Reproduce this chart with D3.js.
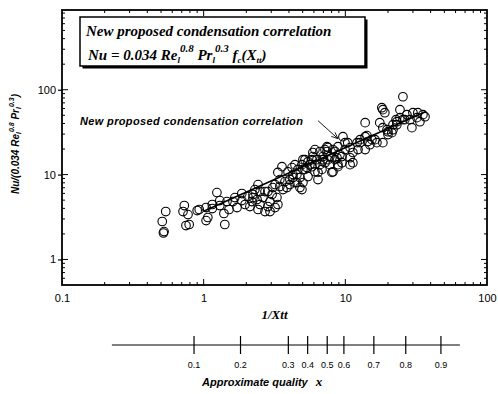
<!DOCTYPE html>
<html>
<head>
<meta charset="utf-8">
<script src="https://cdn.jsdelivr.net/npm/d3@7"></script>
<style>
  body { margin: 0; background: #fff; }
  svg { display: block; }
  text { fill: #000; }
</style>
</head>
<body>
<svg id="chart" width="498" height="394"></svg>
<script>
// ---- data -------------------------------------------------------------
// Lockhart–Martinelli parameter (1/Xtt) of each measurement
const invXtt = [
  0.51, 0.525, 0.52, 0.54, 0.73, 0.715, 0.775, 0.75, 0.79, 0.90, 0.93, 1.04, 1.07, 1.04, 1.15, 1.24,
  1.30, 1.39, 1.41, 1.46, 1.51, 1.61, 1.72, 1.86, 1.86, 1.96, 2.05, 2.19, 2.23, 1.30, 1.66, 1.15,
  2.12, 2.42, 2.50, 2.62, 2.50, 2.42, 2.71, 2.94, 2.84, 2.94, 3.04, 3.08, 3.29, 3.34, 3.19, 3.34,
  3.57, 3.45, 3.75, 3.87, 3.94, 4.06, 4.20, 4.27, 4.41, 4.41, 4.63, 4.78, 5.02, 4.94, 5.19, 5.36,
  5.45, 5.81, 5.90, 6.10, 6.41, 6.30, 6.62, 6.95, 7.18, 7.54, 7.78, 8.04, 7.42, 2.38, 2.23, 2.71,
  3.63, 4.27, 4.55, 4.78, 4.94, 5.02, 5.19, 5.45, 5.81, 5.90, 6.10, 6.41, 6.62, 6.95, 7.42, 7.78,
  8.18, 8.73, 8.87, 9.16, 9.62, 9.94, 10.4, 10.8, 11.3, 10.8, 9.46, 10.8, 12.7, 13.8, 14.4, 13.8,
  13.8, 16.2, 16.7, 17.5, 18.4, 19.7, 18.4, 19.0, 20.0, 23.1, 24.3, 25.5, 27.2, 28.6, 29.5, 30.0,
  32.0, 32.5, 33.6, 35.3, 25.5, 18.1, 22.8, 24.3, 26.3, 36.5, 21.7, 21.3, 18.4, 21.7, 23.1, 14.2,
  15.4, 12.1, 8.87, 8.45, 7.54, 9.46, 8.04, 8.87, 8.18, 11.3, 20.0, 12.7,
  2.30, 2.84, 3.19, 3.45, 4.06, 4.55, 5.02, 5.62, 6.10, 6.84, 7.18, 8.45, 9.94, 12.3, 14.9
];
// Nu / (0.034 Re_l^0.8 Pr_l^0.3) of each measurement
const nuRatio = [
  2.80, 2.13, 2.05, 3.67, 4.32, 3.67, 3.38, 2.51, 2.58, 3.77, 3.88, 4.09, 3.12, 2.87, 4.44, 6.14,
  4.94, 3.48, 2.58, 4.81, 3.88, 4.81, 4.09, 5.98, 4.94, 4.44, 5.51, 4.81, 5.82, 4.32, 5.36, 3.98,
  4.20, 7.63, 6.31, 5.36, 4.44, 3.88, 3.67, 3.67, 4.20, 4.81, 5.82, 7.03, 5.36, 4.44, 4.09, 10.6,
  12.4, 8.73, 8.27, 7.03, 10.8, 8.73, 12.1, 10.0, 8.05, 13.1, 11.5, 9.22, 8.05, 13.1, 15.0, 12.1,
  14.2, 12.4, 16.3, 10.8, 8.73, 15.0, 18.7, 16.3, 19.7, 15.0, 13.1, 10.6, 21.3, 5.08, 5.36, 6.31,
  6.66, 9.22, 8.05, 7.03, 6.66, 15.0, 11.5, 9.47, 15.0, 18.2, 19.7, 10.6, 13.1, 15.0, 18.7, 16.3,
  19.7, 15.8, 13.1, 17.2, 28.0, 23.8, 23.8, 20.8, 18.2, 15.8, 13.8, 13.1, 23.8, 28.0, 24.5, 19.7,
  40.9, 25.8, 23.8, 40.9, 23.8, 33.8, 58.2, 53.6, 32.0, 42.0, 58.2, 44.4, 50.8, 44.4, 35.7, 53.6,
  46.9, 53.6, 42.0, 50.8, 82.7, 61.4, 44.4, 46.9, 44.4, 48.1, 38.7, 31.2, 35.7, 33.8, 38.7, 28.8,
  25.8, 23.8, 21.3, 18.7, 20.8, 16.3, 15.8, 12.4, 10.8, 13.8, 29.6, 25.8,
  6.66, 6.31, 7.63, 7.22, 7.63, 10.0, 11.5, 13.1, 13.1, 11.5, 13.8, 15.0, 19.7, 19.7, 22.5
];

// proposed correlation, drawn as a straight line in log–log space
const fitX = [1, 37];
const fitY = [3.7, 55.5];

// axis ticks
const xTickValues = [0.1, 1, 10, 100];
const yTickValues = [1, 10, 100];

// approximate vapour quality and the 1/Xtt it corresponds to
const qualityLabels = ["0.1", "0.2", "0.3", "0.4", "0.5", "0.6", "0.7", "0.8", "0.9"];
const qualityAt = [0.855, 1.82, 3.96, 5.42, 7.45, 9.77, 15.9, 26.7, 47.3];
const qualityAxisExtent = [0.225, 64.4];

// ---- layout -----------------------------------------------------------
const svg = d3.select("#chart");
const sans = "'Liberation Sans', Arial, sans-serif";
const serif = "'Liberation Serif', 'Times New Roman', serif";

const x = d3.scaleLog().domain([0.1, 100]).range([62, 487]);
const y = d3.scaleLog().domain([0.5, 870]).range([285, 10]);
const [x0, x1] = x.range();
const [y0, y1] = [y.range()[1], y.range()[0]]; // top, bottom

// minor ticks: 2..9 within each decade
function minorTicks(scale) {
  const [a, b] = scale.domain();
  const out = [];
  for (let p = Math.floor(Math.log10(a)); p <= Math.ceil(Math.log10(b)); p++) {
    for (let k = 2; k <= 9; k++) {
      const v = k * Math.pow(10, p);
      if (v > a && v < b) out.push(v);
    }
  }
  return out;
}
const xMinor = minorTicks(x);
const yMinor = minorTicks(y).filter(v => !yTickValues.includes(v));

// ---- axes -------------------------------------------------------------
const fmt = d => String(d);

const gLeft = svg.append("g").attr("transform", `translate(${x0},0)`)
  .call(d3.axisLeft(y).tickValues(yTickValues).tickFormat(fmt).tickSizeInner(4).tickSizeOuter(0).tickPadding(2));
gLeft.select(".domain").remove();

const gBottom = svg.append("g").attr("transform", `translate(0,${y1})`)
  .call(d3.axisBottom(x).tickValues(xTickValues).tickFormat(fmt).tickSize(0).tickPadding(9));
gBottom.select(".domain").remove();

svg.selectAll(".tick text").attr("font-family", sans).attr("font-size", 11);
svg.selectAll(".tick line").attr("stroke", "#000").attr("stroke-width", 1.2);

// inward tick marks on all four sides
const tickG = svg.append("g").attr("stroke", "#000").attr("stroke-width", 1);
const sides = [
  { vals: yTickValues, len: 6, f: v => [x0, y(v), x0 + 1, y(v)] },
  { vals: yMinor, len: 3, f: v => [x0, y(v), x0 + 1, y(v)] },
  { vals: yTickValues, len: 6, f: v => [x1, y(v), x1 - 1, y(v)] },
  { vals: yMinor, len: 3, f: v => [x1, y(v), x1 - 1, y(v)] },
  { vals: xTickValues.filter(v => v > 0.1 && v < 100), len: 6, f: v => [x(v), y1, x(v), y1 - 1] },
  { vals: xMinor, len: 3, f: v => [x(v), y1, x(v), y1 - 1] },
  { vals: xTickValues.filter(v => v > 0.1 && v < 100), len: 6, f: v => [x(v), y0, x(v), y0 + 1] },
  { vals: xMinor, len: 3, f: v => [x(v), y0, x(v), y0 + 1] }
];
sides.forEach(s => {
  s.vals.forEach(v => {
    const [ax, ay, bx, by] = s.f(v);
    const dx = (bx - ax) * s.len, dy = (by - ay) * s.len;
    tickG.append("line").attr("x1", ax).attr("y1", ay).attr("x2", ax + dx).attr("y2", ay + dy);
  });
});

// plot frame
svg.append("rect")
  .attr("x", x0).attr("y", y0).attr("width", x1 - x0).attr("height", y1 - y0)
  .attr("fill", "none").attr("stroke", "#000").attr("stroke-width", 1.8);

// ---- data marks -------------------------------------------------------
const points = invXtt.map((v, i) => ({ x: v, y: nuRatio[i] }));
svg.append("g")
  .selectAll("circle").data(points).join("circle")
  .attr("cx", d => x(d.x)).attr("cy", d => y(d.y)).attr("r", 4.3)
  .attr("fill", "none").attr("stroke", "#000").attr("stroke-width", 1.1);

const fitLine = d3.line().x(d => x(d[0])).y(d => y(d[1]));
svg.append("path")
  .datum(fitX.map((v, i) => [v, fitY[i]]))
  .attr("d", fitLine).attr("fill", "none").attr("stroke", "#000").attr("stroke-width", 1.6);

// ---- annotation -------------------------------------------------------
svg.append("text")
  .attr("x", 80).attr("y", 125)
  .attr("font-family", sans).attr("font-size", 11).attr("font-weight", "bold")
  .attr("font-style", "italic").attr("letter-spacing", 0.35)
  .text("New proposed condensation correlation");

const tail = [x(6.41), y(43.2)];
const tip = [x(8.87), y(26.5)];
const ang = Math.atan2(tip[1] - tail[1], tip[0] - tail[0]);
const ah = 7;
const arrow = svg.append("g").attr("stroke", "#000").attr("stroke-width", 0.9).attr("fill", "none");
arrow.append("line").attr("x1", tail[0]).attr("y1", tail[1]).attr("x2", tip[0]).attr("y2", tip[1]);
[-0.4, 0.4].forEach(a => {
  arrow.append("line")
    .attr("x1", tip[0]).attr("y1", tip[1])
    .attr("x2", tip[0] - ah * Math.cos(ang + a)).attr("y2", tip[1] - ah * Math.sin(ang + a));
});

// ---- title box --------------------------------------------------------
const box = { x: 80, y: 17, w: 285, h: 49 };
svg.append("rect").attr("x", box.x + 2.5).attr("y", box.y + 2.5).attr("width", box.w).attr("height", box.h)
  .attr("fill", "#000");
svg.append("rect").attr("x", box.x).attr("y", box.y).attr("width", box.w).attr("height", box.h)
  .attr("fill", "#fff").attr("stroke", "#000").attr("stroke-width", 1.5);

svg.append("text")
  .attr("x", 86).attr("y", 36)
  .attr("font-family", serif).attr("font-size", 15).attr("font-weight", "bold").attr("font-style", "italic")
  .text("New proposed condensation correlation");

const eq = svg.append("text")
  .attr("x", 88).attr("y", 60)
  .attr("font-family", serif).attr("font-size", 15).attr("font-weight", "bold").attr("font-style", "italic");
function piece(t, txt, kind) {
  const sp = t.append("tspan").text(txt);
  if (kind === "sub") sp.attr("font-size", 9).attr("baseline-shift", "-3");
  if (kind === "sup") sp.attr("font-size", 11).attr("baseline-shift", "8");
  return sp;
}
piece(eq, "Nu = 0.034 Re");
piece(eq, "l", "sub");
piece(eq, "0.8", "sup");
piece(eq, " Pr");
piece(eq, "l", "sub");
piece(eq, "0.3", "sup");
piece(eq, " f");
piece(eq, "c", "sub");
piece(eq, "(X");
piece(eq, "tt", "sub");
piece(eq, ")");

// ---- axis titles ------------------------------------------------------
const yTitle = svg.append("text")
  .attr("transform", "translate(19,144) rotate(-90)")
  .attr("text-anchor", "middle")
  .attr("font-family", sans).attr("font-size", 10).attr("font-weight", "bold").attr("font-style", "italic");
function piece2(t, txt, kind) {
  const sp = t.append("tspan").text(txt);
  if (kind === "sub") sp.attr("font-size", 7).attr("baseline-shift", "-2");
  if (kind === "sup") sp.attr("font-size", 7).attr("baseline-shift", "5");
  return sp;
}
piece2(yTitle, "Nu/(0.034 Re");
piece2(yTitle, "l", "sub");
piece2(yTitle, "0.8", "sup");
piece2(yTitle, " Pr");
piece2(yTitle, "l", "sub");
piece2(yTitle, "0.3", "sup");
piece2(yTitle, ")");

svg.append("text")
  .attr("x", (x0 + x1) / 2).attr("y", 319).attr("text-anchor", "middle")
  .attr("font-family", serif).attr("font-size", 13).attr("font-weight", "bold").attr("font-style", "italic")
  .text("1/Xtt");

// ---- secondary scale: approximate quality ---------------------------------
const qAxisY = 345;
const qG = svg.append("g");
qG.append("line")
  .attr("x1", x(qualityAxisExtent[0])).attr("x2", x(qualityAxisExtent[1]))
  .attr("y1", qAxisY).attr("y2", qAxisY)
  .attr("stroke", "#000").attr("stroke-width", 1.2);
qG.selectAll("line.q").data(qualityAt).join("line").attr("class", "q")
  .attr("x1", d => x(d)).attr("x2", d => x(d))
  .attr("y1", qAxisY - 9).attr("y2", qAxisY + 9)
  .attr("stroke", "#000").attr("stroke-width", 1.2);
qG.selectAll("text").data(qualityAt).join("text")
  .attr("x", d => x(d)).attr("y", 368).attr("text-anchor", "middle")
  .attr("font-family", sans).attr("font-size", 9)
  .text((d, i) => qualityLabels[i]);

const qTitle = svg.append("text").attr("x", 202).attr("y", 386)
  .attr("font-family", sans).attr("font-size", 11).attr("font-weight", "bold").attr("font-style", "italic");
qTitle.append("tspan").text("Approximate quality");
qTitle.append("tspan").attr("dx", 8).attr("font-family", serif).attr("font-size", 13).text("x");
</script>
</body>
</html>
